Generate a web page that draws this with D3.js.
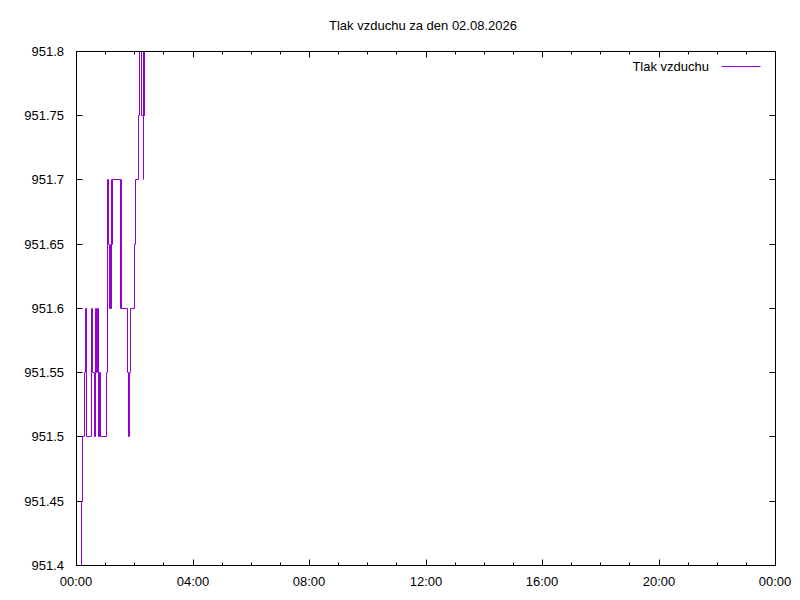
<!DOCTYPE html>
<html>
<head>
<meta charset="utf-8">
<script src="https://cdn.jsdelivr.net/npm/d3@7"></script>
<style>
html,body{margin:0;padding:0;background:#fff;}
text{font-family:"Liberation Sans",Arial,sans-serif;font-size:13px;fill:#000;}
</style>
</head>
<body>
<svg id="chart" width="800" height="600"></svg>
<script>
const titleText = "Tlak vzduchu za den 02.08.2026";
const seriesName = "Tlak vzduchu";
const dayStart = "2026-08-02T00:00:00Z";
const dayEnd = "2026-08-03T00:00:00Z";
const times = ["00:00","00:10","00:12","00:17","00:19","00:20","00:21","00:30","00:31","00:33","00:37","00:39","00:42","00:43","00:46","00:47","00:49","01:02","01:04","01:06","01:08","01:10","01:11","01:12","01:13","01:14","01:31","01:32","01:33","01:45","01:48","01:50","01:51","02:00","02:02","02:07","02:10","02:14","02:18","02:19","02:21","02:22"];
const values = [951.4,951.45,951.5,951.55,951.6,951.55,951.5,951.55,951.6,951.55,951.5,951.6,951.55,951.6,951.5,951.55,951.5,951.55,951.7,951.65,951.6,951.65,951.6,951.7,951.65,951.7,951.6,951.7,951.6,951.55,951.5,951.55,951.6,951.65,951.7,951.75,951.8,951.75,951.7,951.8,951.75,951.75];
const yTicks = [951.4,951.45,951.5,951.55,951.6,951.65,951.7,951.75,951.8];
const yDomain = [951.4, 951.8];

const svg = d3.select("#chart");
const L = 76, R = 775, T = 51, B = 565;
const x = d3.scaleUtc().domain([new Date(dayStart), new Date(dayEnd)]).range([L, R]);
const y = d3.scaleLinear().domain(yDomain).range([B, T]);
const base = new Date(dayStart);
const data = times.map((t, i) => {
  const [h, m] = t.split(":").map(Number);
  return {t: new Date(base.getTime() + (h * 60 + m) * 60000), v: values[i]};
});

const g = svg.append("g").attr("transform", "translate(0.5,0.5)");

// Y ticks (inward, mirrored)
yTicks.forEach(v => {
  const yy = Math.round(y(v));
  g.append("line").attr("x1", L).attr("x2", L + 6).attr("y1", yy).attr("y2", yy).attr("stroke", "#000");
  g.append("line").attr("x1", R).attr("x2", R - 6).attr("y1", yy).attr("y2", yy).attr("stroke", "#000");
  svg.append("text").attr("x", 64).attr("y", yy + 4.5).attr("text-anchor", "end")
    .text(d3.format(".2~f")(v));
});

// X ticks: major every 4h, minor every hour
const hours = d3.utcHour.range(new Date(dayStart), new Date(new Date(dayEnd).getTime() + 1));
hours.forEach(d => {
  const xx = Math.round(x(d));
  const major = d.getUTCHours() % 4 === 0;
  const len = major ? 6 : 3;
  g.append("line").attr("x1", xx).attr("x2", xx).attr("y1", B).attr("y2", B - len).attr("stroke", "#000");
  g.append("line").attr("x1", xx).attr("x2", xx).attr("y1", T).attr("y2", T + len).attr("stroke", "#000");
});
x.ticks(d3.utcHour.every(4)).forEach(d => {
  svg.append("text").attr("x", Math.round(x(d))).attr("y", 586).attr("text-anchor", "middle")
    .text(d3.utcFormat("%H:%M")(d));
});

// Data line (clipped)
svg.append("clipPath").attr("id", "clip").append("rect")
  .attr("x", L).attr("y", T).attr("width", R - L).attr("height", B - T);
const line = d3.line().x(d => Math.round(x(d.t))).y(d => Math.round(y(d.v))).curve(d3.curveStepAfter);
g.append("path").datum(data).attr("d", line).attr("fill", "none")
  .attr("stroke", "#9400d3").attr("stroke-width", 1).attr("clip-path", "url(#clip)");

// Border
g.append("rect").attr("x", L).attr("y", T).attr("width", R - L).attr("height", B - T)
  .attr("fill", "none").attr("stroke", "#000");

// Title
svg.append("text").attr("x", 423).attr("y", 30).attr("text-anchor", "middle").text(titleText);

// Legend
svg.append("text").attr("x", 709).attr("y", 71).attr("text-anchor", "end").text(seriesName);
g.append("line").attr("x1", 721).attr("x2", 760).attr("y1", 66).attr("y2", 66).attr("stroke", "#9400d3");
</script>
</body>
</html>
